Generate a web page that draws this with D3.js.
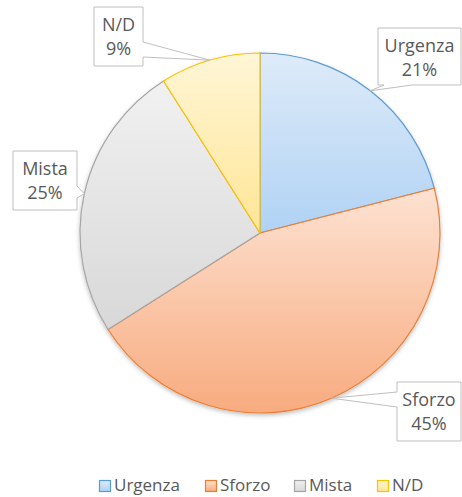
<!DOCTYPE html>
<html>
<head>
<meta charset="utf-8">
<script src="https://cdn.jsdelivr.net/npm/d3@7"></script>
<style>
  body { margin: 0; background: #fff; }
  text { font-family: "Open Sans", sans-serif; fill: #595959; }
</style>
</head>
<body>
<div id="chart"></div>
<script>
const categories = ["Urgenza", "Sforzo", "Mista", "N/D"];
const values = [21, 45, 25, 9];
const labels = ["21%", "45%", "25%", "9%"];

const strokeColors = ["#5b9bd5", "#ed7d31", "#a5a5a5", "#ffc000"];
const topColors = ["#deebf9", "#fde2d2", "#f1f1f1", "#fff6d6"];
const bottomColors = ["#b0d2f4", "#f8ab7f", "#d8d8d8", "#ffe596"];

// setup canvas
var svg_width = 462;
var svg_height = 497;
var svg = d3.select("#chart").append("svg")
  .attr("width", svg_width)
  .attr("height", svg_height);

var cx = 260, cy = 233, radius = 180;

var defs = svg.append("defs");
categories.forEach(function(c, i) {
  var g = defs.append("linearGradient")
    .attr("id", "grad" + i)
    .attr("x1", 0).attr("y1", 0).attr("x2", 0).attr("y2", 1);
  g.append("stop").attr("offset", "0%").attr("stop-color", topColors[i]);
  g.append("stop").attr("offset", "100%").attr("stop-color", bottomColors[i]);
});
var shadow = defs.append("filter").attr("id", "shadow")
  .attr("x", "-10%").attr("y", "-10%").attr("width", "120%").attr("height", "120%");
shadow.append("feDropShadow")
  .attr("dx", 0).attr("dy", 2).attr("stdDeviation", 2)
  .attr("flood-color", "#000").attr("flood-opacity", 0.25);

var pie = d3.pie().sort(null).value(function(d) { return d; });
var arcs = pie(values);

var arc = d3.arc().innerRadius(0).outerRadius(radius);
var edgeArc = d3.arc().innerRadius(radius).outerRadius(radius);

var chart_area = svg.append("g")
  .attr("transform", "translate(" + cx + "," + cy + ")");

chart_area.append("g")
  .attr("filter", "url(#shadow)")
  .selectAll("path")
  .data(arcs)
  .enter().append("path")
    .attr("d", arc)
    .attr("fill", function(d, i) { return "url(#grad" + i + ")"; })
    .attr("stroke", function(d, i) { return strokeColors[i]; })
    .attr("stroke-width", 1.2);

// callout boxes: box position and pointer base (side, from, to)
var callouts = [
  {x: 378, y: 28, w: 83, h: 57, side: "bottom", b0: 384, b1: 412},
  {x: 397, y: 382, w: 64, h: 59, side: "left", b0: 392, b1: 407},
  {x: 13, y: 151, w: 64, h: 59, side: "right", b0: 186, b1: 198},
  {x: 94, y: 7, w: 49, h: 59, side: "right", b0: 42, b1: 57}
];

function calloutPath(c, tip) {
  var x0 = c.x, y0 = c.y, x1 = c.x + c.w, y1 = c.y + c.h;
  var p = d3.path();
  p.moveTo(x0, y0);
  p.lineTo(x1, y0);
  if (c.side === "right") {
    p.lineTo(x1, c.b0); p.lineTo(tip[0], tip[1]); p.lineTo(x1, c.b1);
  }
  p.lineTo(x1, y1);
  if (c.side === "bottom") {
    p.lineTo(c.b1, y1); p.lineTo(tip[0], tip[1]); p.lineTo(c.b0, y1);
  }
  p.lineTo(x0, y1);
  if (c.side === "left") {
    p.lineTo(x0, c.b1); p.lineTo(tip[0], tip[1]); p.lineTo(x0, c.b0);
  }
  p.closePath();
  return p.toString();
}

var labelGroup = svg.append("g");
arcs.forEach(function(d, i) {
  var c = callouts[i];
  var t = edgeArc.centroid(d);
  var tip = [t[0] + cx, t[1] + cy];
  labelGroup.append("path")
    .attr("d", calloutPath(c, tip))
    .attr("fill", "#fff")
    .attr("stroke", "#bfbfbf")
    .attr("stroke-width", 1);
  var tx = c.x + c.w / 2;
  labelGroup.append("text")
    .attr("x", tx).attr("y", c.y + 24)
    .attr("text-anchor", "middle")
    .style("font-size", "18px")
    .text(categories[i]);
  labelGroup.append("text")
    .attr("x", tx).attr("y", c.y + 48)
    .attr("text-anchor", "middle")
    .style("font-size", "18px")
    .text(labels[i]);
});

// legend
var legendX = [99, 205, 294, 377];
var legend = svg.append("g");
categories.forEach(function(c, i) {
  legend.append("rect")
    .attr("x", legendX[i] + 0.5).attr("y", 480.5)
    .attr("width", 11).attr("height", 11)
    .attr("fill", "url(#grad" + i + ")")
    .attr("stroke", strokeColors[i])
    .attr("stroke-width", 1.2);
  legend.append("text")
    .attr("x", legendX[i] + 15).attr("y", 491)
    .style("font-size", "17px")
    .text(c);
});
</script>
</body>
</html>
